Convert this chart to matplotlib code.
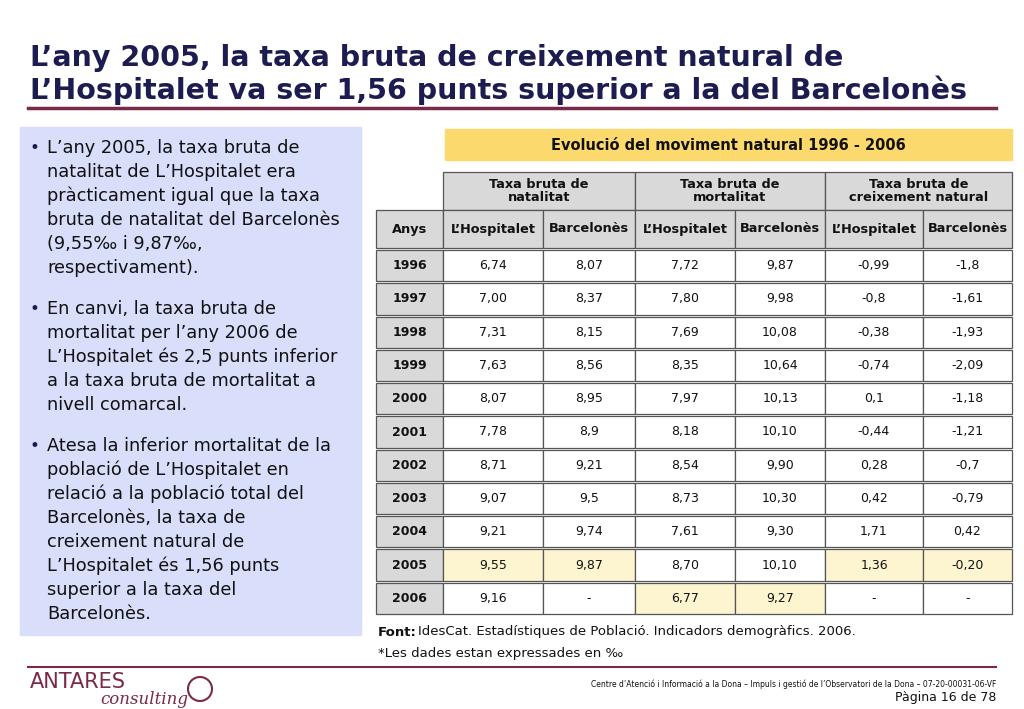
import matplotlib.pyplot as plt
from matplotlib.patches import Rectangle

# Data
years = ['1996', '1997', '1998', '1999', '2000', '2001', '2002', '2003', '2004', '2005', '2006']
nat_hosp = ['6,74', '7,00', '7,31', '7,63', '8,07', '7,78', '8,71', '9,07', '9,21', '9,55', '9,16']
nat_barc = ['8,07', '8,37', '8,15', '8,56', '8,95', '8,9', '9,21', '9,5', '9,74', '9,87', '-']
mort_hosp = ['7,72', '7,80', '7,69', '8,35', '7,97', '8,18', '8,54', '8,73', '7,61', '8,70', '6,77']
mort_barc = ['9,87', '9,98', '10,08', '10,64', '10,13', '10,10', '9,90', '10,30', '9,30', '10,10', '9,27']
crei_hosp = ['-0,99', '-0,8', '-0,38', '-0,74', '0,1', '-0,44', '0,28', '0,42', '1,71', '1,36', '-']
crei_barc = ['-1,8', '-1,61', '-1,93', '-2,09', '-1,18', '-1,21', '-0,7', '-0,79', '0,42', '-0,20', '-']
groups = ['Taxa bruta de\nnatalitat', 'Taxa bruta de\nmortalitat', 'Taxa bruta de\ncreixement natural']
subcols = ["L\u2019Hospitalet", 'Barcelonès'] * 3
# highlighted cells (row, data column)
highlight = [(9, 0), (9, 1), (9, 4), (9, 5), (10, 2), (10, 3)]

bullets = [
    "L\u2019any 2005, la taxa bruta de\nnatalitat de L\u2019Hospitalet era\npràcticament igual que la taxa\nbruta de natalitat del Barcelonès\n(9,55\u2030 i 9,87\u2030,\nrespectivament).",
    "En canvi, la taxa bruta de\nmortalitat per l\u2019any 2006 de\nL\u2019Hospitalet és 2,5 punts inferior\na la taxa bruta de mortalitat a\nnivell comarcal.",
    "Atesa la inferior mortalitat de la\npoblació de L\u2019Hospitalet en\nrelació a la població total del\nBarcelonès, la taxa de\ncreixement natural de\nL\u2019Hospitalet és 1,56 punts\nsuperior a la taxa del\nBarcelonès.",
]

fig = plt.figure(figsize=(10.24, 7.09), dpi=100)
ax = fig.add_axes([0, 0, 1, 1])
ax.set_xlim(0, 1024)
ax.set_ylim(709, 0)
ax.axis('off')

navy = '#1c1c50'
maroon = '#7a2a48'
gray = '#d9d9d9'
ax.text(30, 58, "L\u2019any 2005, la taxa bruta de creixement natural de", fontsize=20.5,
        fontweight='bold', color=navy, va='center')
ax.text(30, 90, "L\u2019Hospitalet va ser 1,56 punts superior a la del Barcelonès", fontsize=20.5,
        fontweight='bold', color=navy, va='center')
ax.plot([28, 996], [108, 108], color=maroon, lw=2.5)

# left box
ax.add_patch(Rectangle((20, 127), 341, 508, color='#d9defa', zorder=0))
y = 148
for b in bullets:
    ax.text(30, y, '\u2022', fontsize=12, va='center', color=navy)
    for line in b.split('\n'):
        ax.text(47, y, line, fontsize=12.8, va='center', color='#111111')
        y += 24
    y += 17

# table title
ax.add_patch(Rectangle((445, 129), 567, 31, color='#fcd96c'))
ax.text(728, 145, 'Evolució del moviment natural 1996 - 2006', fontsize=10.5,
        fontweight='bold', ha='center', va='center', color='#111111')

xs = [376, 443, 543, 635, 735, 825, 923, 1012]
top1, top2, top3 = 172, 210, 248
rh = (614 - top3) / len(years)

def cell(x0, x1, y0, y1, fc, txt, bold=False, fs=9):
    ax.add_patch(Rectangle((x0, y0), x1 - x0, y1 - y0, facecolor=fc, edgecolor='#555555', lw=0.9))
    ax.text((x0 + x1) / 2, (y0 + y1) / 2, txt, fontsize=fs, ha='center', va='center',
            fontweight='bold' if bold else 'normal', color='#111111', linespacing=1.0)

for i, g in enumerate(groups):
    cell(xs[1 + 2 * i], xs[3 + 2 * i], top1, top2, gray, g, True, 9.3)
cell(xs[0], xs[1], top2, top3, gray, 'Anys', True, 9.3)
for j, s in enumerate(subcols):
    cell(xs[1 + j], xs[2 + j], top2, top3, gray, s, True, 9.3)

cols = [nat_hosp, nat_barc, mort_hosp, mort_barc, crei_hosp, crei_barc]
for r, yr in enumerate(years):
    y0 = top3 + r * rh + 2
    y1 = top3 + (r + 1) * rh
    cell(xs[0], xs[1], y0, y1, gray, yr, True)
    for j, c in enumerate(cols):
        fc = '#fdf5d0' if (r, j) in highlight else 'white'
        cell(xs[1 + j], xs[2 + j], y0, y1, fc, c[r])

ax.text(378, 632, 'Font:', fontsize=9.5, fontweight='bold', va='center', color='#111111')
ax.text(418, 632, 'IdesCat. Estadístiques de Població. Indicadors demogràfics. 2006.',
        fontsize=9.5, va='center', color='#111111')
ax.text(378, 654, '*Les dades estan expressades en \u2030', fontsize=9.5, va='center', color='#111111')

ax.plot([28, 996], [667, 667], color=maroon, lw=1.5)
ax.text(30, 682, 'ANTARES', fontsize=15, color=maroon, va='center')
ax.text(100, 699, 'consulting', fontsize=12, color=maroon, va='center', style='italic',
        family='serif')
ax.add_patch(plt.Circle((200, 689), 12, fill=False, ec=maroon, lw=1.5))
ax.text(996, 684, "Centre d\u2019Atenció i Informació a la Dona \u2013 Impuls i gestió de l\u2019Observatori de la Dona \u2013 07-20-00031-06-VF",
        fontsize=5.5, ha='right', va='center', color='#111111')
ax.text(996, 697, 'Pàgina 16 de 78', fontsize=9, ha='right', va='center', color='#111111')

fig.savefig('out.png', dpi=100)
